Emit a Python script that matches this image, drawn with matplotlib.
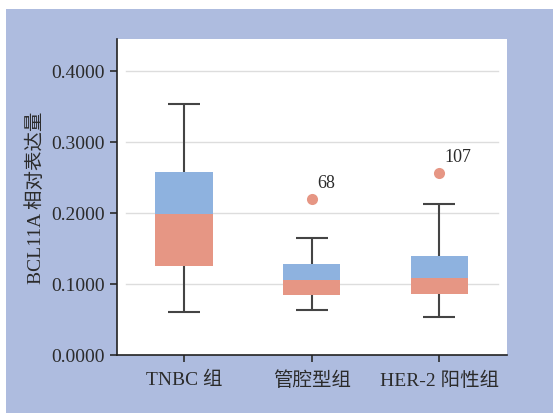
import numpy as np
import matplotlib
matplotlib.use('Agg')
import matplotlib.pyplot as plt
from matplotlib.patches import Rectangle

plt.rcParams['font.family'] = ['Liberation Serif', 'Noto Sans CJK SC']

groups = ['TNBC 组', '管腔型组', 'HER-2 阳性组']
whisker_low = [0.0610, 0.0638, 0.0535]
q1 = [0.1257, 0.0849, 0.0863]
median = [0.1984, 0.1055, 0.1083]
q3 = [0.2570, 0.1276, 0.1388]
whisker_high = [0.3531, 0.1646, 0.2124]
outlier_group = [1, 2]
outlier_value = [0.2195, 0.2560]
outlier_label = ['68', '107']

yticks = [0.0, 0.1, 0.2, 0.3, 0.4]

blue = '#8eb2df'
salmon = '#e69684'
panel = '#aebcdf'
ink = '#2b2b2b'

fig = plt.figure(figsize=(5.53, 4.14), dpi=100, facecolor='white')
# blue backdrop panel behind the axes
fig.patches.append(Rectangle((6/553, 0), 1, 1 - 10/414, transform=fig.transFigure,
                             facecolor=panel, edgecolor='none', zorder=-10))
ax = fig.add_axes([117/553, 1 - 356/414, 390/553, 316/414])
ax.set_facecolor('white')

x = np.arange(len(groups))
for yv in yticks[1:]:
    ax.axhline(yv, xmin=0.022, xmax=0.976, color='#dddddd', lw=1.0, zorder=1)

# whiskers and caps
ax.vlines(x, whisker_low, whisker_high, color='#444444', lw=1.5, zorder=2)
ax.hlines(whisker_low, x - 0.125, x + 0.125, color='#444444', lw=1.5, zorder=2)
ax.hlines(whisker_high, x - 0.125, x + 0.125, color='#444444', lw=1.5, zorder=2)

# two-colour boxes: lower half salmon, upper half blue
q1 = np.array(q1); median = np.array(median); q3 = np.array(q3)
ax.bar(x, median - q1, bottom=q1, width=0.45, color=salmon, zorder=3)
ax.bar(x, q3 - median, bottom=median, width=0.45, color=blue, zorder=3)

ax.plot(outlier_group, outlier_value, 'o', color=salmon, ms=8, mec='none', zorder=4)
for g, v, t in zip(outlier_group, outlier_value, outlier_label):
    ax.annotate(t, (g, v), xytext=(4, 6), textcoords='offset points',
                fontsize=13, color=ink, ha='left', va='bottom')

ax.set_xlim(-0.525, 2.53)
ax.set_ylim(0, 0.4446)
ax.set_yticks(yticks)
ax.set_yticklabels(['%.4f' % v for v in yticks])
ax.set_xticks(x)
ax.set_xticklabels(groups)
ax.tick_params(axis='both', labelsize=14, colors=ink, length=5, width=1.2, direction='out')
ax.tick_params(axis='x', pad=6)
ax.set_ylabel('BCL11A 相对表达量', fontsize=14, color=ink, labelpad=5)

for side in ['top', 'right']:
    ax.spines[side].set_visible(False)
for side in ['left', 'bottom']:
    ax.spines[side].set_color('#222222')
    ax.spines[side].set_linewidth(1.2)

fig.savefig('out.png', dpi=100, facecolor='white')
